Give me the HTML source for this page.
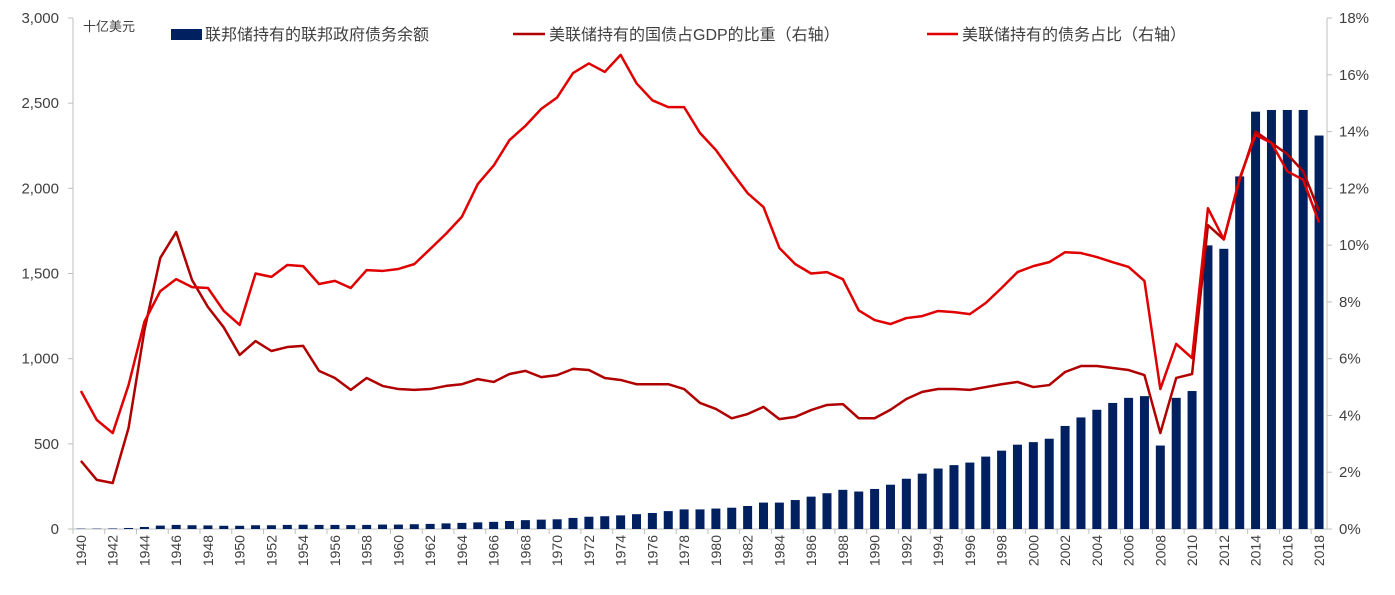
<!DOCTYPE html>
<html><head><meta charset="utf-8"><style>
body{margin:0;background:#fff;}
svg text{font-family:"Liberation Sans","Noto Sans CJK SC",sans-serif;}
</style></head><body>
<svg id="chart" width="1395" height="590" xmlns="http://www.w3.org/2000/svg"></svg>
<script>
const years=[];for(let y=1940;y<=2018;y++)years.push(y);
const holdings=[2,2,3,6,12,20,24,22,21,19,19,22,22,24,25,24,24,23,24,26,26,28,30,33,36,39,42,47,52,55,57,65,72,75,80,87,94,105,115,115,120,125,135,155,155,170,190,210,230,220,235,260,295,325,355,375,390,425,460,495,510,530,605,655,700,740,770,780,490,770,810,1665,1645,2070,2450,2460,2460,2460,2310];
const gdpRatio=[2.4,1.73,1.62,3.56,7.0,9.55,10.46,8.77,7.82,7.1,6.13,6.62,6.27,6.41,6.45,5.57,5.32,4.9,5.32,5.04,4.93,4.9,4.93,5.04,5.1,5.28,5.18,5.46,5.57,5.35,5.42,5.64,5.6,5.32,5.25,5.1,5.1,5.1,4.93,4.44,4.23,3.9,4.05,4.3,3.87,3.95,4.19,4.37,4.4,3.9,3.9,4.2,4.58,4.83,4.93,4.93,4.9,5.0,5.1,5.18,5.0,5.07,5.53,5.74,5.74,5.67,5.6,5.42,3.38,5.32,5.46,10.7,10.2,12.3,14.0,13.6,13.2,12.6,11.2];
const debtShare=[4.86,3.84,3.38,5.07,7.3,8.38,8.8,8.52,8.49,7.68,7.19,9.0,8.88,9.3,9.26,8.63,8.74,8.49,9.12,9.09,9.16,9.33,9.86,10.4,11.0,12.15,12.8,13.7,14.2,14.8,15.2,16.06,16.4,16.1,16.7,15.7,15.1,14.86,14.86,13.95,13.35,12.57,11.83,11.34,9.9,9.33,9.0,9.05,8.8,7.7,7.36,7.22,7.43,7.5,7.68,7.64,7.57,7.96,8.49,9.05,9.26,9.4,9.75,9.72,9.58,9.4,9.23,8.74,4.93,6.52,6.02,11.3,10.2,12.36,13.88,13.6,12.6,12.3,10.8];
const leftTicks=[0,500,1000,1500,2000,2500,3000];
const rightTicks=[0,2,4,6,8,10,12,14,16,18];

const svg=document.getElementById('chart');const NS='http://www.w3.org/2000/svg';
const X0=73,X1=1327,Y0=529,Y1=18;const step=(X1-X0)/years.length;
const xc=i=>X0+step*(i+0.5);
const yl=v=>Y0-(v/3000)*(Y0-Y1);
const yr=v=>Y0-(v/18)*(Y0-Y1);
function mk(t,a,p){const e=document.createElementNS(NS,t);for(const k in a)e.setAttribute(k,a[k]);(p||svg).appendChild(e);return e;}
// axes
let e=mk('line',{x1:X0,y1:Y1,x2:X0,y2:Y0,stroke:'#bfbfbf'});


e=mk('line',{x1:X1,y1:Y1,x2:X1,y2:Y0,stroke:'#bfbfbf'});


e=mk('line',{x1:X0,y1:Y0,x2:X1,y2:Y0,stroke:'#bfbfbf'});


leftTicks.forEach(v=>{const y=yl(v);mk('line',{x1:X0-5,y1:y,x2:X0,y2:y,stroke:'#bfbfbf'});
 const t=mk('text',{x:X0-14,y:y+5,'text-anchor':'end','font-size':15,fill:'#404040'});t.textContent=v.toLocaleString('en-US');
 
 });
rightTicks.forEach(v=>{const y=yr(v);mk('line',{x1:X1,y1:y,x2:X1+5,y2:y,stroke:'#bfbfbf'});
 const t=mk('text',{x:X1+12,y:y+5,'font-size':15,fill:'#404040'});t.textContent=v+'%';
 
 });
for(let i=0;i<=years.length;i++){if(i%2==0)mk('line',{x1:X0+step*i,y1:Y0,x2:X0+step*i,y2:Y0+5,stroke:'#bfbfbf'});}
years.forEach((y,i)=>{if(i%2)return;const x=xc(i)+5;const t=mk('text',{x:x,y:Y0+6,'font-size':14,fill:'#404040','text-anchor':'end',transform:`rotate(-90 ${x} ${Y0+6})`});t.textContent=y;
 
 });
// bars
const bw=9;
holdings.forEach((v,i)=>{const b=mk('rect',{x:xc(i)-bw/2,y:yl(v),width:bw,height:Y0-yl(v),fill:'#002060'});
 
 });
// lines
function line(arr,color,name){const p=mk('polyline',{points:arr.map((v,i)=>xc(i)+','+yr(v)).join(' '),fill:'none',stroke:color,'stroke-width':2.5,'stroke-linejoin':'round'});
 
 }
line(gdpRatio,'#b00000','gdp-ratio-line');
line(debtShare,'#e00000','debt-share-line');
// unit
e=mk('text',{x:83,y:31,'font-size':13,fill:'#404040'});e.textContent='十亿美元';


// legend
const g=mk('g',{});
mk('rect',{x:171,y:29,width:31,height:11,fill:'#002060'},g);
e=mk('text',{x:205,y:40,'font-size':16,fill:'#404040'},g);e.textContent='联邦储持有的联邦政府债务余额';

mk('line',{x1:513,y1:34,x2:545,y2:34,stroke:'#b00000','stroke-width':2.5},g);
e=mk('text',{x:549,y:40,'font-size':16,fill:'#404040'},g);e.textContent='美联储持有的国债占GDP的比重（右轴）';

mk('line',{x1:927,y1:34,x2:958,y2:34,stroke:'#e00000','stroke-width':2.5},g);
e=mk('text',{x:962,y:40,'font-size':16,fill:'#404040'},g);e.textContent='美联储持有的债务占比（右轴）';

</script>
</body></html>
